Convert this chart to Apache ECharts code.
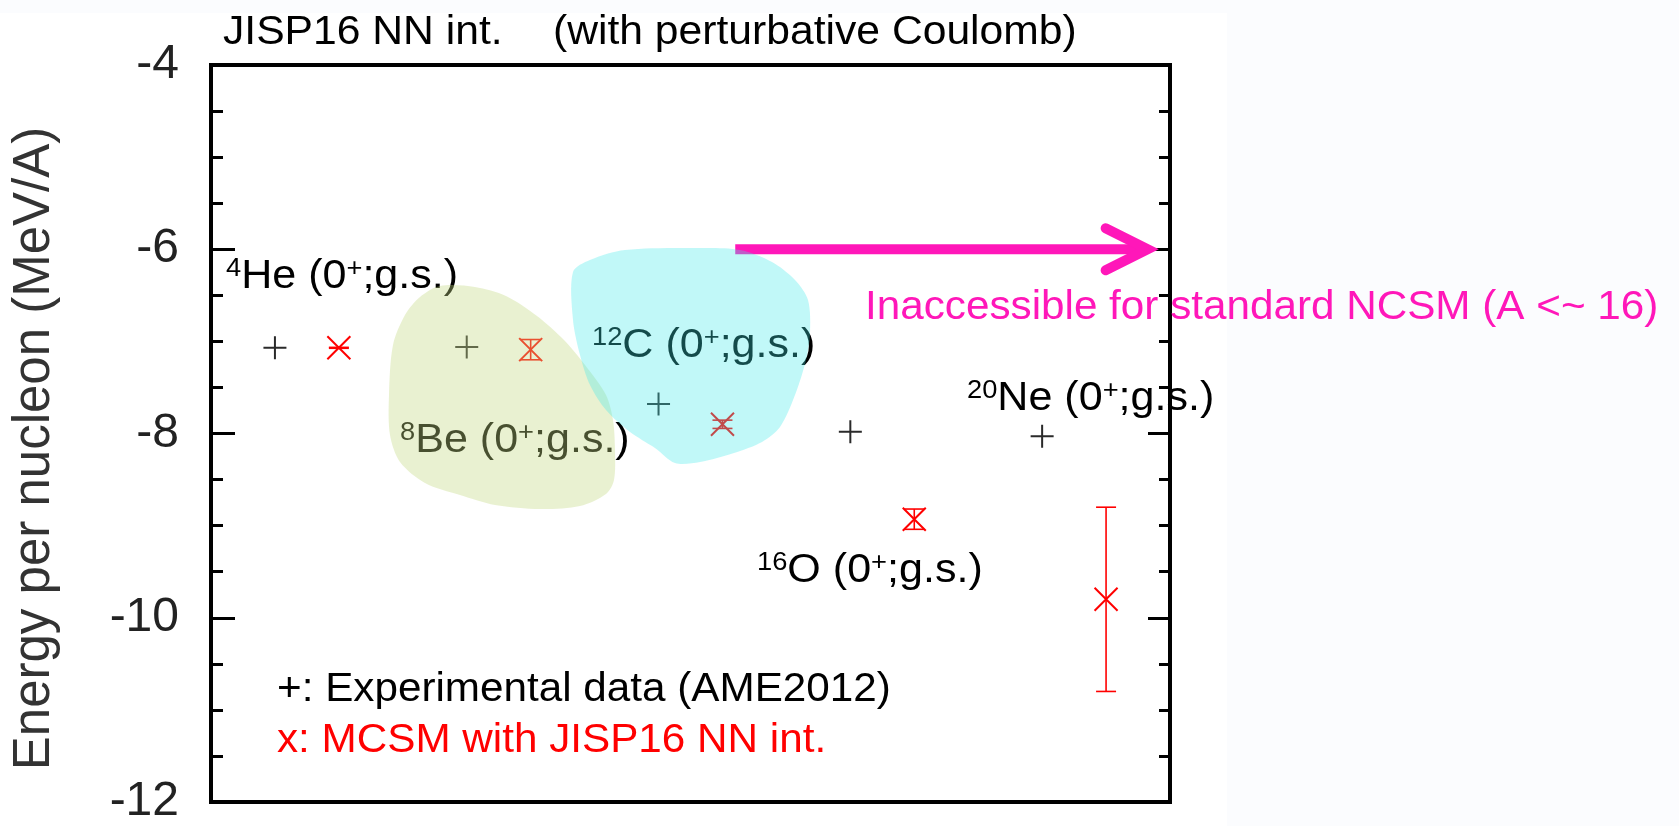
<!DOCTYPE html>
<html>
<head>
<meta charset="utf-8">
<title>JISP16 NN int. — energy per nucleon</title>
<script src="https://cdn.jsdelivr.net/npm/echarts@6/dist/echarts.min.js"></script>
<style>
  html, body { margin: 0; padding: 0; background: #fbfcfe; }
  #chart { width: 1679px; height: 826px; }
</style>
</head>
<body>
<div id="chart"></div>
<script>
// Mass numbers of the nuclei (0+ ground states)
const massNumbers = [4, 8, 12, 16, 20];
// Experimental energy per nucleon, AME2012 (MeV/A)
const expEnergy = [-7.07, -7.06, -7.68, -7.98, -8.03];
// MCSM with JISP16 NN int. (MeV/A) and its uncertainty
const mcsmEnergy = [-7.07, -7.09, -7.90, -8.93, -9.80];
const mcsmError = [0.005, 0.11, 0.045, 0.11, 1.0];
// Y axis tick values
const yTicks = [-12, -10, -8, -6, -4];
// Nucleus labels: mass number, symbol
const nucleusLabels = [['4', 'He'], ['8', 'Be'], ['12', 'C'], ['16', 'O'], ['20', 'Ne']];

const FONT = "'Liberation Sans', Arial, Helvetica, sans-serif";
const MCSM_SHIFT = 4 / 3;           // MCSM point drawn to the right of the experiment
const X_MIN = 8 / 3, X_MAX = 68 / 3;

const chart = echarts.init(document.getElementById('chart'), null, { renderer: 'canvas' });

const expData = massNumbers.map((a, i) => [a, expEnergy[i]]);
const mcsmData = massNumbers.map((a, i) => [a + MCSM_SHIFT, mcsmEnergy[i]]);
const errData = massNumbers.map((a, i) => [a + MCSM_SHIFT, mcsmEnergy[i] - mcsmError[i], mcsmEnergy[i] + mcsmError[i]]);

// slide text: slightly wide lettering
const TEXT_SIZE = 41;
function plainText(x, baseline, text, color, stretch) {
  return {
    type: 'text', x: x, y: baseline - 0.19 * TEXT_SIZE, scaleX: stretch, z: 20,
    style: { text: text, fill: color, font: TEXT_SIZE + 'px ' + FONT, textAlign: 'left', textVerticalAlign: 'middle', align: 'left', verticalAlign: 'middle' }
  };
}
function nucleusText(x, baseline, mass, sym) {
  return {
    type: 'text', x: x, y: baseline - 0.69 * TEXT_SIZE, scaleX: 1.05, z: 20,
    style: {
      text: '{s|' + mass + '}' + sym + ' (0{s|+};g.s.)',
      fill: '#000', font: TEXT_SIZE + 'px ' + FONT, lineHeight: TEXT_SIZE,
      textAlign: 'left', textVerticalAlign: 'top', align: 'left', verticalAlign: 'top',
      rich: { s: { fontSize: 26, fontFamily: FONT, lineHeight: 26, verticalAlign: 'top', fill: '#000' } }
    }
  };
}

const labelAnchors = [[226, 284], [400, 448], [592, 353], [757, 578], [967, 406]];

// hand-drawn highlight regions (pixel outlines), laid over the text with transparency
const beRegion = [[440,286],[475,287],[506,296],[537,316],[564,340],[585,365],[606,395],[613,420],[615,450],[614,480],[606,494],[580,506],[540,509],[495,505],[460,495],[425,483],[400,462],[390,435],[389,395],[393,345],[405,315],[420,297]];
const cRegion = [[573,272],[590,260],[625,250],[700,248],[740,250],[772,262],[795,280],[808,300],[810,333],[806,360],[795,395],[780,427],[762,442],[734,453],[700,462],[675,463],[655,448],[630,432],[606,410],[590,385],[580,355],[573,320]];

const graphics = [
  // white slide panel behind the plot
  { type: 'rect', z: -10, shape: { x: 0, y: 13, width: 1227, height: 813 }, style: { fill: '#ffffff' } },
  plainText(223, 40, 'JISP16 NN int.', '#000', 1.04),
  plainText(553, 40, '(with perturbative Coulomb)', '#000', 1.04),
  plainText(865, 315, 'Inaccessible for standard NCSM (A <~ 16)', '#ff17b9', 1.03),
  plainText(277, 697, '+: Experimental data (AME2012)', '#000', 1.03),
  plainText(277, 748, 'x: MCSM with JISP16 NN int.', '#ff0000', 1.03),
  ...nucleusLabels.map((l, i) => nucleusText(labelAnchors[i][0], labelAnchors[i][1], l[0], l[1])),
  { type: 'polygon', z: 50, shape: { points: beRegion, smooth: 0.3 }, style: { fill: 'rgba(195,216,130,0.37)' } },
  { type: 'polygon', z: 50, shape: { points: cRegion, smooth: 0.3 }, style: { fill: 'rgba(62,234,234,0.32)' } }
];

const plusPath = 'path://M0,10L20,10M10,0L10,20';
const crossPath = 'path://M0,0L20,20M20,0L0,20';

const option = {
  backgroundColor: 'transparent',
  animation: false,
  grid: { left: 211, top: 65, width: 959, height: 743, show: true, borderColor: '#000', borderWidth: 4, backgroundColor: 'transparent' },
  xAxis: {
    type: 'value', min: X_MIN, max: X_MAX,
    axisLine: { show: false }, axisTick: { show: false }, axisLabel: { show: false }, splitLine: { show: false }
  },
  yAxis: [{
    type: 'value', min: yTicks[0], max: yTicks[yTicks.length - 1], interval: 2, position: 'left',
    name: 'Energy per nucleon (MeV/A)', nameLocation: 'middle', nameGap: 151,
    nameTextStyle: { fontSize: 51, fontFamily: FONT, color: '#333', padding: [0, 30, 0, 0] },
    axisLine: { show: false },
    axisTick: { show: true, inside: true, length: 24, lineStyle: { color: '#000', width: 3 } },
    minorTick: { show: true, splitNumber: 4, length: 12, lineStyle: { color: '#000', width: 3 } },
    axisLabel: { fontSize: 48, fontFamily: FONT, color: '#222', margin: 32 },
    splitLine: { show: false }
  }, {
    type: 'value', min: yTicks[0], max: yTicks[yTicks.length - 1], interval: 2, position: 'right',
    axisLine: { show: false },
    axisTick: { show: true, inside: true, length: 22, lineStyle: { color: '#000', width: 3 } },
    minorTick: { show: true, splitNumber: 4, length: 11, lineStyle: { color: '#000', width: 3 } },
    axisLabel: { show: false }, splitLine: { show: false }
  }],
  series: [
    {
      name: 'Experimental data (AME2012)', type: 'scatter', data: expData,
      symbol: plusPath, symbolSize: 23,
      itemStyle: { color: 'rgba(0,0,0,0)', borderColor: '#2a2a2a', borderWidth: 2, opacity: 1 },
      emphasis: { disabled: true }, z: 3
    },
    {
      name: 'MCSM with JISP16 NN int.', type: 'scatter', data: mcsmData,
      symbol: crossPath, symbolSize: 23,
      itemStyle: { color: 'rgba(0,0,0,0)', borderColor: '#ff0000', borderWidth: 2, opacity: 1 },
      emphasis: { disabled: true }, z: 3
    },
    {
      name: 'MCSM error', type: 'custom', data: errData,
      encode: { x: 0, y: [1, 2] },
      renderItem: function (params, api) {
        const x = api.value(0);
        const lo = api.coord([x, api.value(1)]);
        const hi = api.coord([x, api.value(2)]);
        const hw = 10, st = { stroke: '#ff0000', lineWidth: 1.6 };
        return {
          type: 'group', children: [
            { type: 'line', shape: { x1: hi[0], y1: hi[1], x2: lo[0], y2: lo[1] }, style: st },
            { type: 'line', shape: { x1: hi[0] - hw, y1: hi[1], x2: hi[0] + hw, y2: hi[1] }, style: st },
            { type: 'line', shape: { x1: lo[0] - hw, y1: lo[1], x2: lo[0] + hw, y2: lo[1] }, style: st }
          ]
        };
      },
      z: 3
    },
    {
      // arrow marking the region beyond the reach of standard NCSM
      name: 'NCSM limit', type: 'custom', data: [[13.6, 22.2, -6]],
      renderItem: function (params, api) {
        const p0 = api.coord([api.value(0), api.value(2)]);
        const p1 = api.coord([api.value(1), api.value(2)]);
        const c = '#ff17b9';
        return {
          type: 'group', children: [
            { type: 'line', shape: { x1: p0[0], y1: p0[1], x2: p1[0] - 4, y2: p1[1] }, style: { stroke: c, lineWidth: 10 } },
            { type: 'polyline', shape: { points: [[p1[0] - 42, p1[1] - 21], [p1[0], p1[1]], [p1[0] - 42, p1[1] + 21]] },
              style: { stroke: c, lineWidth: 10, lineCap: 'round', lineJoin: 'miter', fill: null } }
          ]
        };
      },
      z: 4
    }
  ],
  graphic: { elements: graphics }
};

chart.setOption(option);
</script>
</body>
</html>
